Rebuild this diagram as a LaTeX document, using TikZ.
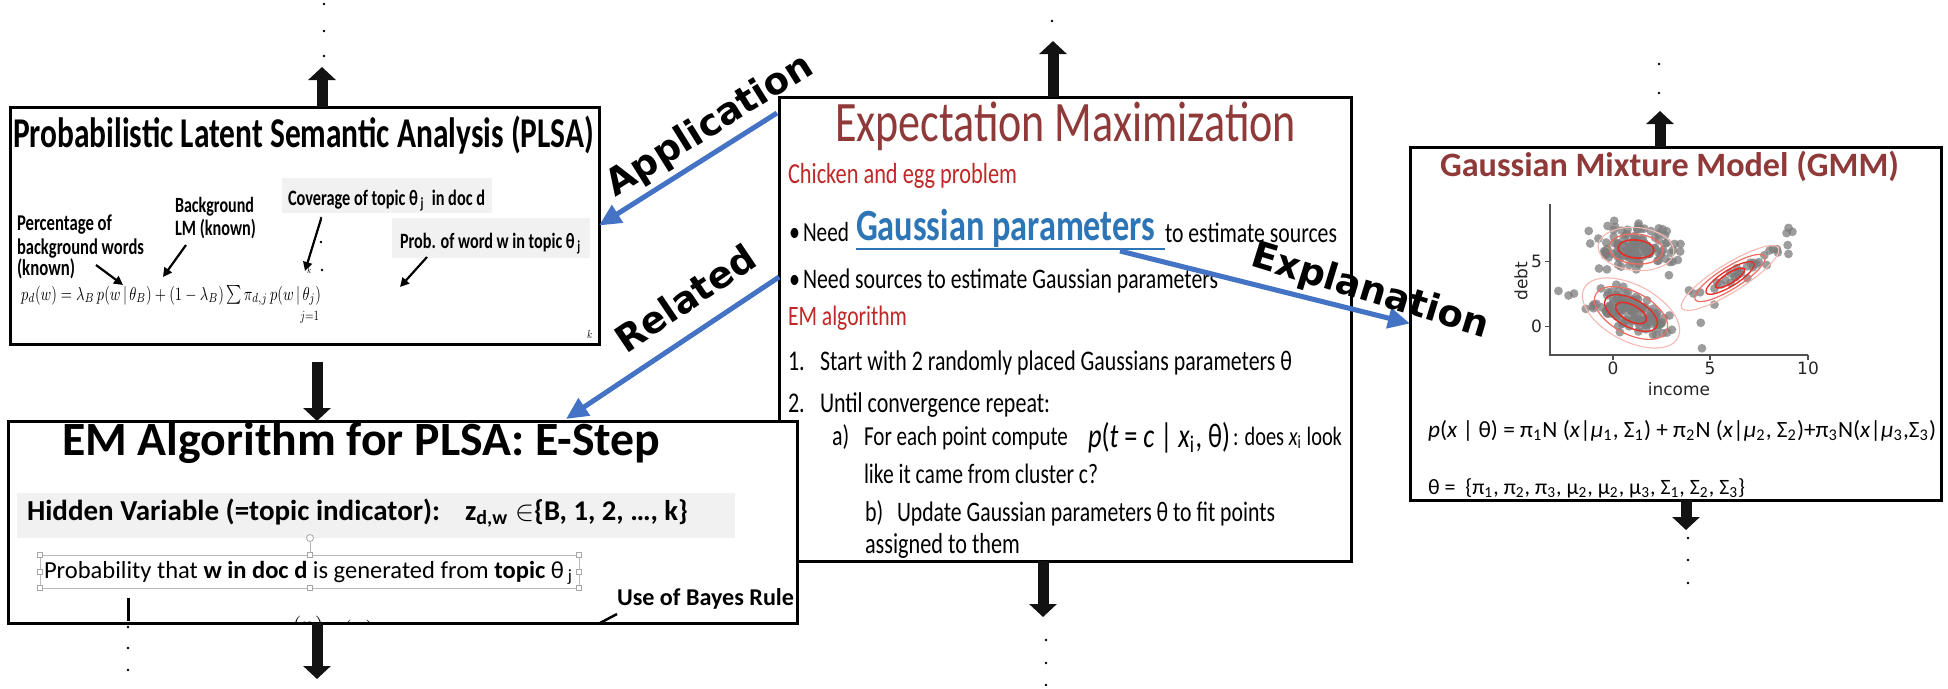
\documentclass[tikz,border=0pt]{standalone}
\usepackage{fontspec}
\usepackage{graphicx}
\setmainfont{Carlito}
\newfontfamily\djv{DejaVu Sans}
\usetikzlibrary{arrows.meta}
\definecolor{emred}{RGB}{143,57,57}
\definecolor{brred}{RGB}{192,40,40}
\definecolor{gblue}{RGB}{46,117,182}
\definecolor{abl}{RGB}{68,114,196}
\definecolor{gband}{RGB}{241,241,241}
\definecolor{ptgray}{RGB}{125,125,125}
\definecolor{axgray}{RGB}{80,80,80}
\definecolor{cstrong}{RGB}{228,45,38}
\definecolor{cmid}{RGB}{238,110,100}
\definecolor{clight}{RGB}{247,185,178}
\newcommand\fw[3]{\scalebox{1}[#1]{\resizebox{#2pt}{!}{#3}}}
\tikzset{
  box/.style={draw=black, line width=3pt, fill=white, inner sep=0pt, outer sep=0pt, anchor=north west},
  tx/.style={inner sep=0pt, outer sep=0pt, anchor=base west},
  flow/.style={draw=black!93, line width=11pt, -{Triangle[length=13pt,width=27pt]}},
  bluearr/.style={draw=abl, line width=5pt, -{Triangle[length=22pt,width=20pt]}},
  parr/.style={draw=black, line width=2.2pt, -{Triangle[length=9pt,width=9pt]}},
  lbl/.style={font=\djv\bfseries\fontsize{37}{37}\selectfont, inner sep=0pt},
  handle/.style={draw=gray!70, fill=white, line width=0.8pt, minimum size=5pt, inner sep=0pt},
  tick/.style={font=\djv\fontsize{17}{17}\selectfont, inner sep=0pt, text=black!85}
}
\begin{document}
\begin{tikzpicture}[x=1pt,y=-1pt]
\useasboundingbox (0,0) rectangle (1948,688);

% ================= EM slide =================
\node[box, minimum width=572pt, minimum height=464pt] (em) at (779,97) {};
\node[tx, text=emred] (emT) at (835,141) {\fw{1.3}{461}{Expectation Maximization}};
\node[tx, text=brred] (emC) at (788,183) {\fw{1.3}{229}{Chicken and egg problem}};
\node[tx] (emB1) at (789,241) {\scalebox{1}[1.3]{\fontsize{22}{22}\selectfont •}};
\node[tx] (emN1) at (803,241) {\fw{1.3}{46}{Need}};
\node[tx, text=gblue] (emG) at (856,240) {\fw{1.3}{299}{\bfseries Gaussian parameters}};
\draw[gblue, line width=2.5pt] (856,249) -- (1165,249);
\node[tx] (emS1) at (1165,242) {\fw{1.3}{172}{to estimate sources}};
\node[tx] (emB2) at (789,288) {\scalebox{1}[1.3]{\fontsize{22}{22}\selectfont •}};
\node[tx] (emN2) at (803,288) {\fw{1.3}{415}{Need sources to estimate Gaussian parameters}};
\node[tx, text=brred] (emA) at (788,325) {\fw{1.3}{119}{EM algorithm}};
\node[tx] (em1) at (788,370) {\scalebox{1}[1.3]{\fontsize{22}{22}\selectfont 1.}};
\node[tx] (em1t) at (820,370) {\fw{1.3}{472}{Start with 2 randomly placed Gaussians parameters θ}};
\node[tx] (em2) at (788,412) {\scalebox{1}[1.3]{\fontsize{22}{22}\selectfont 2.}};
\node[tx] (em2t) at (820,412) {\fw{1.3}{230}{Until convergence repeat:}};
\node[tx] (ema) at (832,445) {\scalebox{1}[1.3]{\fontsize{22}{22}\selectfont a)}};
\node[tx] (emat) at (864,445) {\fw{1.3}{204}{For each point compute}};
\node[tx] (emaf) at (1088,447) {\fw{1.3}{142}{\textit{p}(\textit{t} = \textit{c} | \textit{x}\textsubscript{i}, θ)}};
\node[tx] (emad) at (1233,445) {\fw{1.3}{109}{: does \textit{x}\textsubscript{i} look}};
\node[tx] (emat2) at (864,483) {\fw{1.3}{234}{like it came from cluster c?}};
\node[tx] (emb) at (865,521) {\scalebox{1}[1.3]{\fontsize{22}{22}\selectfont b)}};
\node[tx] (embt) at (897,521) {\fw{1.3}{378}{Update Gaussian parameters θ to fit points}};
\node[tx] (emb2) at (865,553) {\fw{1.3}{155}{assigned to them}};

% ================= PLSA slide =================
\node[box, minimum width=589pt, minimum height=237pt] (plsa) at (10,107) {};
\node[tx] (plT) at (13,147) {\fw{1.35}{581}{\bfseries Probabilistic Latent Semantic Analysis (PLSA)}};
\node[tx] (pl1) at (17,230) {\fw{1.35}{95}{\bfseries Percentage of}};
\node[tx] (pl2) at (17,254) {\fw{1.35}{127}{\bfseries background words}};
\node[tx] (pl3) at (17,275) {\fw{1.35}{58}{\bfseries (known)}};
\node[tx] (pl4) at (175,212) {\fw{1.35}{79}{\bfseries Background}};
\node[tx] (pl5) at (175,235) {\fw{1.35}{81}{\bfseries LM (known)}};
\fill[gband] (282,178) rectangle (492,213);
\node[tx] (pl6) at (288,205) {\fw{1.35}{197}{\bfseries Coverage of topic θ\textsubscript{ j}\ \ in doc d}};
\fill[gband] (392,218) rectangle (590,258);
\node[tx] (pl7) at (400,248) {\fw{1.35}{181}{\bfseries Prob. of word w in topic θ\textsubscript{ j}}};
\node[tx] (plF) at (21,300) {\fw{1.3}{300}{$p_d(w)=\lambda_B\,p(w\,|\,\theta_B)+(1-\lambda_B)\sum\pi_{d,j}\,p(w\,|\,\theta_j)$}};
\node[tx] (plj) at (300,320) {\fw{1.3}{19}{$j{=}1$}};
\node[tx] (plk) at (587,338) {\scalebox{1}[1.3]{\fontsize{9}{9}\selectfont$k$}};
\node[tx] (plk2) at (307,273) {\scalebox{1}[1.3]{\fontsize{7}{7}\selectfont$k$}};
\foreach \x/\y in {321/218, 321/242, 322/270} \fill (\x,\y) circle[radius=1.4pt];
\coordinate (a1s) at (96,265);  \coordinate (a1e) at (123,285);
\coordinate (a2s) at (186,245); \coordinate (a2e) at (163,277);
\coordinate (a3s) at (321,219); \coordinate (a3e) at (305,271);
\coordinate (a4s) at (427,257); \coordinate (a4e) at (400,287);
\draw[parr] (a1s) -- (a1e);
\draw[parr] (a2s) -- (a2e);
\draw[parr] (a3s) -- (a3e);
\draw[parr] (a4s) -- (a4e);

% ================= E-step slide =================
\node[box, minimum width=789pt, minimum height=202pt] (estep) at (8,421) {};
\node[tx] (esT) at (62,455) {\fw{1}{598}{\bfseries EM Algorithm for PLSA: E-Step}};
\fill[gband] (17,493) rectangle (735,538);
\node[tx] (esH) at (27,520) {\fw{1}{413}{\bfseries Hidden Variable (=topic indicator):}};
\node[tx] (esZ) at (465,520) {\fw{1}{223}{\bfseries z\textsubscript{d,w} $\in$\{B, 1, 2, …, k\}}};
\draw[gray!55, line width=1pt] (40,555) rectangle (579,588);
\draw[gray!60, line width=0.8pt] (310,541.5) -- (310,555);
\node[draw=gray!70, fill=white, circle, line width=0.8pt, minimum size=7pt, inner sep=0pt] (hrot) at (310,538) {};
\foreach \x/\y [count=\k] in {40/555, 310/555, 579/555, 40/571.5, 579/571.5, 40/588, 310/588, 579/588}
  \node[handle] (h\k) at (\x,\y) {};
\node[tx] (esP) at (44,578) {\fw{1}{529}{Probability that \textbf{w in doc d} is generated from \textbf{topic} θ\textsubscript{ j}}};
\node[tx] (esU) at (617,605) {\fw{1}{177}{\bfseries Use of Bayes Rule}};
\begin{scope}
  \clip (10,423) rectangle (795,621.5);
  \coordinate (bys) at (617,614); \coordinate (bye) at (585,631);
  \draw[line width=2.5pt] (bys) -- (bye);
  \node[anchor=north west, inner sep=0pt] (esF) at (276,615.5) {\resizebox{182pt}{!}{$\pi^{(n)}_{d,j}\,p^{(n)}(w\,|\,\theta_j)$}};
\end{scope}
\coordinate (vls) at (128,598); \coordinate (vle) at (128,621);
\draw[line width=3pt] (vls) -- (vle);
\foreach \y in {627,648,670} \fill (128,\y) circle[radius=1.4pt];

% ================= GMM slide =================
\node[box, minimum width=531pt, minimum height=353pt] (gmm) at (1410,147) {};
\node[tx, text=emred] (gT) at (1440,176) {\fw{1}{459}{\bfseries Gaussian Mixture Model (GMM)}};
% scatter
\begin{scope}[shift={(1613,326.7)}, x=19.5pt, y=13pt]
  \pgfmathsetseed{4242}
  \foreach \i in {1,...,125}{
    \pgfmathsetmacro\u{rand+rand+rand}
    \pgfmathsetmacro\v{rand+rand+rand}
    \fill[ptgray, opacity=0.75] ({1.2+1.0*\u},{6.1+0.85*\v}) circle[radius=4.4pt];
  }
  \foreach \i in {1,...,125}{
    \pgfmathsetmacro\u{rand+rand+rand}
    \pgfmathsetmacro\v{rand+rand+rand}
    \fill[ptgray, opacity=0.75] ({0.9+1.05*\u},{1.1-0.5*\u+0.75*\v}) circle[radius=4.4pt];
  }
  \foreach \i in {1,...,32}{
    \pgfmathsetmacro\u{rand+rand+rand}
    \pgfmathsetmacro\v{rand+rand+rand}
    \fill[ptgray, opacity=0.75] ({6.3+1.15*\u},{4.0+0.85*\u+0.3*\v}) circle[radius=4.4pt];
  }
  \foreach \x/\y in {-2.8/2.75, -2.28/2.4, -2.0/2.55, 4.56/-1.66, 4.5/0.3, 5.2/1.7, 9.0/7.6, 9.2/7.3, 8.9/7.2}
    \fill[ptgray, opacity=0.75] (\x,\y) circle[radius=4.4pt];
\end{scope}
% contours
\coordinate (cA) at (1636,249);
\coordinate (cB) at (1631,313);
\coordinate (cC) at (1730,278);
\begin{scope}[rotate around={-5:(cA)}]
  \draw[clight, line width=1.1pt] (cA) ellipse[x radius=38pt, y radius=21.5pt];
  \draw[cmid, line width=1.3pt] (cA) ellipse[x radius=27pt, y radius=15pt];
  \draw[cstrong, line width=1.6pt] (cA) ellipse[x radius=18pt, y radius=9pt];
\end{scope}
\begin{scope}[rotate around={-28:(cB)}]
  \draw[clight, line width=1.1pt] (cB) ellipse[x radius=53pt, y radius=28pt];
  \draw[cmid, line width=1.2pt] (cB) ellipse[x radius=40pt, y radius=21pt];
  \draw[cstrong, line width=1.4pt] (cB) ellipse[x radius=29pt, y radius=14pt];
  \draw[cstrong, line width=1.6pt] (cB) ellipse[x radius=17pt, y radius=8pt];
\end{scope}
\begin{scope}[rotate around={32:(cC)}]
  \draw[clight, line width=1.1pt] (cC) ellipse[x radius=57pt, y radius=14pt];
  \draw[cmid, line width=1.2pt] (cC) ellipse[x radius=41pt, y radius=11pt];
  \draw[cstrong, line width=1.3pt] (cC) ellipse[x radius=28pt, y radius=8pt];
  \draw[cstrong, line width=1.6pt] (cC) ellipse[x radius=17pt, y radius=5pt];
\end{scope}
% axes
\draw[axgray, line width=1.2pt] (1550,204) -- (1550,355) -- (1808,355);
\foreach \yy in {261.7, 326.7} \draw[axgray, line width=1.2pt] (1545,\yy) -- (1550,\yy);
\foreach \xx in {1613, 1710, 1808} \draw[axgray, line width=1.2pt] (\xx,355) -- (\xx,360);
\node[tick, anchor=east] (ty5) at (1542,261.7) {5};
\node[tick, anchor=east] (ty0) at (1542,326.7) {0};
\node[tick, anchor=north] (tx0) at (1613,362) {0};
\node[tick, anchor=north] (tx5) at (1710,362) {5};
\node[tick, anchor=north] (tx10) at (1808,362) {10};
\node[tick] (xlab) at (1679,389) {income};
\node[tick, rotate=90] (ylab) at (1521,281) {debt};
\node[tx] (gF) at (1428,437) {\fw{1}{508}{\textit{p}(\textit{x} | θ) = π\textsubscript{1}N (\textit{x}|\textit{μ}\textsubscript{1}, Σ\textsubscript{1}) + π\textsubscript{2}N (\textit{x}|\textit{μ}\textsubscript{2}, Σ\textsubscript{2})+π\textsubscript{3}N(\textit{x}|\textit{μ}\textsubscript{3},Σ\textsubscript{3})}};
\node[tx] (gP) at (1428,494) {\fw{1}{317}{θ =\ \ \{π\textsubscript{1}, π\textsubscript{2}, π\textsubscript{3}, μ\textsubscript{2}, μ\textsubscript{2}, μ\textsubscript{3}, Σ\textsubscript{1}, Σ\textsubscript{2}, Σ\textsubscript{3}\}}};

% ================= black flow arrows and dots =================
\coordinate (plsaUp) at (322,67);
\draw[flow] (plsa.north -| plsaUp) -- (plsaUp);
\foreach \y in {4,31,56} \fill (324,\y) circle[radius=1.4pt];
\coordinate (emUp) at (1053,41);
\draw[flow] (em.north -| emUp) -- (emUp);
\fill (1052,21) circle[radius=1.4pt];
\coordinate (gmUp) at (1660,111);
\draw[flow] (gmm.north -| gmUp) -- (gmUp);
\foreach \y in {64,93} \fill (1659,\y) circle[radius=1.4pt];
\coordinate (plDs) at (317,362);
\draw[flow] (plDs) -- (estep.north -| plDs);
\coordinate (emDn) at (1043,617);
\draw[flow] (em.south -| emDn) -- (emDn);
\foreach \y in {640,663,685} \fill (1046,\y) circle[radius=1.4pt];
\coordinate (gmDn) at (1686,530);
\draw[flow] (gmm.south -| gmDn) -- (gmDn);
\foreach \y in {538,560,583} \fill (1688,\y) circle[radius=1.4pt];
\coordinate (esDn) at (317,679);
\draw[flow] (estep.south -| esDn) -- (esDn);

% ================= blue arrows =================
\coordinate (appS) at (777,113);
\draw[bluearr] (appS) -- (plsa.east);
\coordinate (relS) at (779,277);
\coordinate (relE) at (566,419);
\draw[bluearr] (relS) -- (relE);
\coordinate (expS) at (1120,251);
\draw[bluearr] (expS) -- (gmm.west);

% ================= labels =================
\node[lbl, rotate=32] (lApp) at (710,126) {Application};
\node[lbl, rotate=34] (lRel) at (685,298) {Related};
\node[lbl, rotate=-17] (lExp) at (1370,292) {Explanation};
\end{tikzpicture}
\end{document}
